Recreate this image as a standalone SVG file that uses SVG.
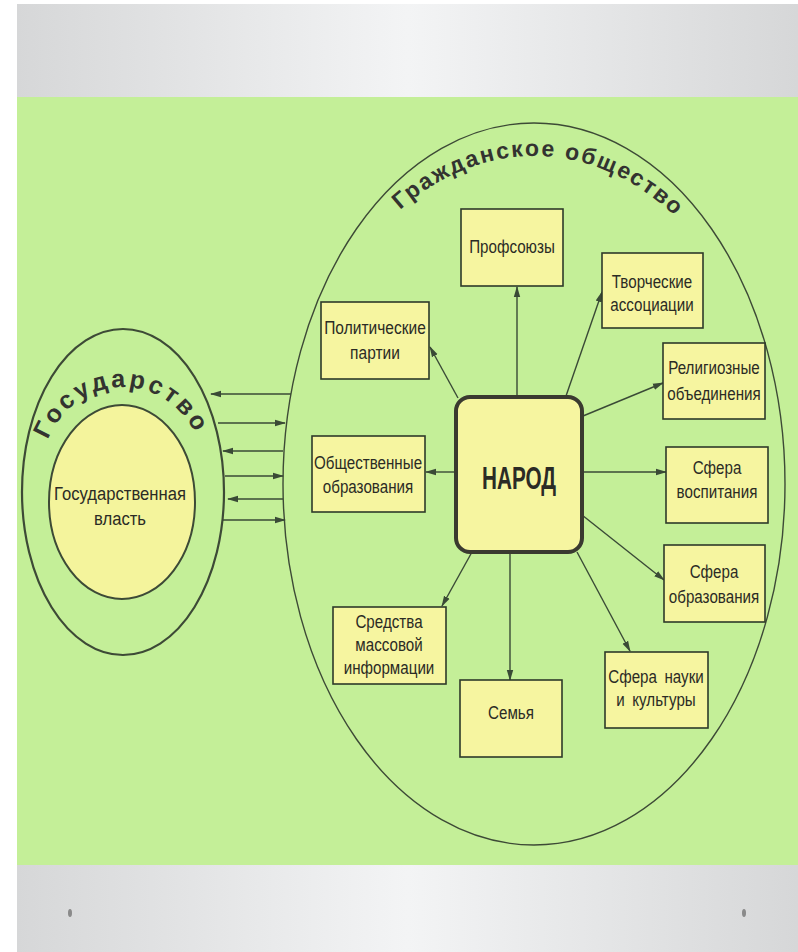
<svg xmlns="http://www.w3.org/2000/svg" width="798" height="952" viewBox="0 0 798 952">
<defs>
<linearGradient id="gray" x1="0" y1="0" x2="1" y2="0">
<stop offset="0" stop-color="#d6d7d8"/>
<stop offset="0.5" stop-color="#f3f4f5"/>
<stop offset="1" stop-color="#d6d7d8"/>
</linearGradient>
<marker id="ah" markerWidth="11" markerHeight="8" refX="10" refY="4" orient="auto" markerUnits="userSpaceOnUse">
<path d="M0,0.8 L11,4 L0,7.2 Z" fill="#3a4a36"/>
</marker>
<path id="civPath" d="M 294,473 A 240,317 0 0 1 774,473"/>
<path id="govPath" d="M 41,475 A 82,88 0 0 1 205,475"/>
</defs>
<style>
.box{fill:#f6f5a0;stroke:#2e3a2a;stroke-width:1.6}
.t{font-family:"Liberation Sans",Arial,sans-serif;font-size:18.5px;fill:#2b2b25;text-anchor:middle}
.arc{font-family:"Liberation Sans",Arial,sans-serif;fill:#333330;text-anchor:middle;font-weight:bold}
.ln{stroke:#3a4a36;stroke-width:1.4;fill:none;marker-end:url(#ah)}
</style>
<rect x="0" y="0" width="798" height="952" fill="#ffffff"/>
<rect x="17" y="4" width="781" height="948" fill="url(#gray)"/>
<rect x="17" y="97" width="781" height="768" fill="#c4ef98"/>
<ellipse cx="70" cy="913" rx="2" ry="4" fill="#8a8a8a"/>
<ellipse cx="744" cy="913" rx="2" ry="4" fill="#8a8a8a"/>

<g id="civil-society">
<ellipse cx="534" cy="484" rx="251" ry="361" fill="none" stroke="#3d4a36" stroke-width="1.4"/>
<text class="arc" font-size="23" letter-spacing="2"><textPath href="#civPath" startOffset="50.6%">Гражданское общество</textPath></text>
</g>

<g id="state">
<ellipse cx="123" cy="492" rx="101" ry="163" fill="#c4ef98" stroke="#3d4a36" stroke-width="2.2"/>
<text class="arc" font-size="25" letter-spacing="3"><textPath href="#govPath" startOffset="49%">Государство</textPath></text>
</g>

<g id="state-power">
<ellipse cx="122" cy="502" rx="73" ry="97" fill="#f4f49c" stroke="#3d4a36" stroke-width="2"/>
<g transform="translate(120,0) scale(0.9,1)">
<text class="t" x="0" y="500" font-size="21">Государственная</text>
<text class="t" x="0" y="525" font-size="21">власть</text>
</g>
</g>

<g id="connectors">
<line class="ln" x1="291" y1="394" x2="211" y2="394"/>
<line class="ln" x1="218" y1="423" x2="285" y2="423"/>
<line class="ln" x1="283" y1="451" x2="223" y2="451"/>
<line class="ln" x1="225" y1="476" x2="283" y2="476"/>
<line class="ln" x1="283" y1="499" x2="228" y2="499"/>
<line class="ln" x1="222" y1="520" x2="285" y2="520"/>

<line class="ln" x1="517" y1="397" x2="517" y2="287"/>
<line class="ln" x1="566" y1="396" x2="602" y2="292"/>
<line class="ln" x1="458" y1="398" x2="430" y2="347"/>
<line class="ln" x1="583" y1="416" x2="663" y2="383"/>
<line class="ln" x1="456" y1="472" x2="426" y2="472"/>
<line class="ln" x1="582" y1="472" x2="666" y2="472"/>
<line class="ln" x1="582" y1="515" x2="664" y2="580"/>
<line class="ln" x1="577" y1="552" x2="630" y2="651"/>
<line class="ln" x1="510" y1="552" x2="510" y2="680"/>
<line class="ln" x1="472" y1="552" x2="442" y2="606"/>
</g>

<g id="narod">
<rect x="456" y="397" width="126" height="155" rx="14" fill="#f6f5a0" stroke="#3a3a30" stroke-width="4"/>
<text x="519" y="489" font-family="Liberation Sans,Arial,sans-serif" font-weight="bold" font-size="31" fill="#2b2b25" text-anchor="middle" textLength="74" lengthAdjust="spacingAndGlyphs">НАРОД</text>
</g>

<g id="profsoyuzy">
<rect class="box" x="461" y="209" width="102" height="77"/>
<g transform="translate(512,0) scale(0.82,1)"><text class="t" x="0" y="253">Профсоюзы</text></g>
</g>

<g id="tvorcheskie">
<rect class="box" x="602" y="253" width="101" height="75"/>
<g transform="translate(652,0) scale(0.82,1)">
<text class="t" x="0" y="288">Творческие</text>
<text class="t" x="0" y="311">ассоциации</text>
</g>
</g>

<g id="politicheskie">
<rect class="box" x="321" y="302" width="108" height="77"/>
<g transform="translate(375,0) scale(0.84,1)">
<text class="t" x="0" y="334">Политические</text>
<text class="t" x="0" y="359">партии</text>
</g>
</g>

<g id="religioznye">
<rect class="box" x="663" y="343" width="102" height="76"/>
<g transform="translate(714,0) scale(0.82,1)">
<text class="t" x="0" y="374">Религиозные</text>
<text class="t" x="0" y="400">объединения</text>
</g>
</g>

<g id="obshchestvennye">
<rect class="box" x="312" y="436" width="113" height="76"/>
<g transform="translate(368,0) scale(0.82,1)">
<text class="t" x="0" y="469">Общественные</text>
<text class="t" x="0" y="493">образования</text>
</g>
</g>

<g id="vospitanie">
<rect class="box" x="666" y="447" width="102" height="76"/>
<g transform="translate(717,0) scale(0.82,1)">
<text class="t" x="0" y="474">Сфера</text>
<text class="t" x="0" y="498">воспитания</text>
</g>
</g>

<g id="obrazovanie">
<rect class="box" x="664" y="545" width="101" height="77"/>
<g transform="translate(714,0) scale(0.82,1)">
<text class="t" x="0" y="578">Сфера</text>
<text class="t" x="0" y="603">образования</text>
</g>
</g>

<g id="smi">
<rect class="box" x="333" y="607" width="113" height="77"/>
<g transform="translate(389,0) scale(0.82,1)">
<text class="t" x="0" y="628">Средства</text>
<text class="t" x="0" y="651">массовой</text>
<text class="t" x="0" y="674">информации</text>
</g>
</g>

<g id="semya">
<rect class="box" x="460" y="680" width="102" height="77"/>
<g transform="translate(511,0) scale(0.82,1)"><text class="t" x="0" y="719">Семья</text></g>
</g>

<g id="nauka">
<rect class="box" x="605" y="652" width="103" height="76"/>
<g transform="translate(656,0) scale(0.82,1)">
<text class="t" x="0" y="683" word-spacing="4">Сфера науки</text>
<text class="t" x="0" y="706" word-spacing="4">и культуры</text>
</g>
</g>
</svg>
